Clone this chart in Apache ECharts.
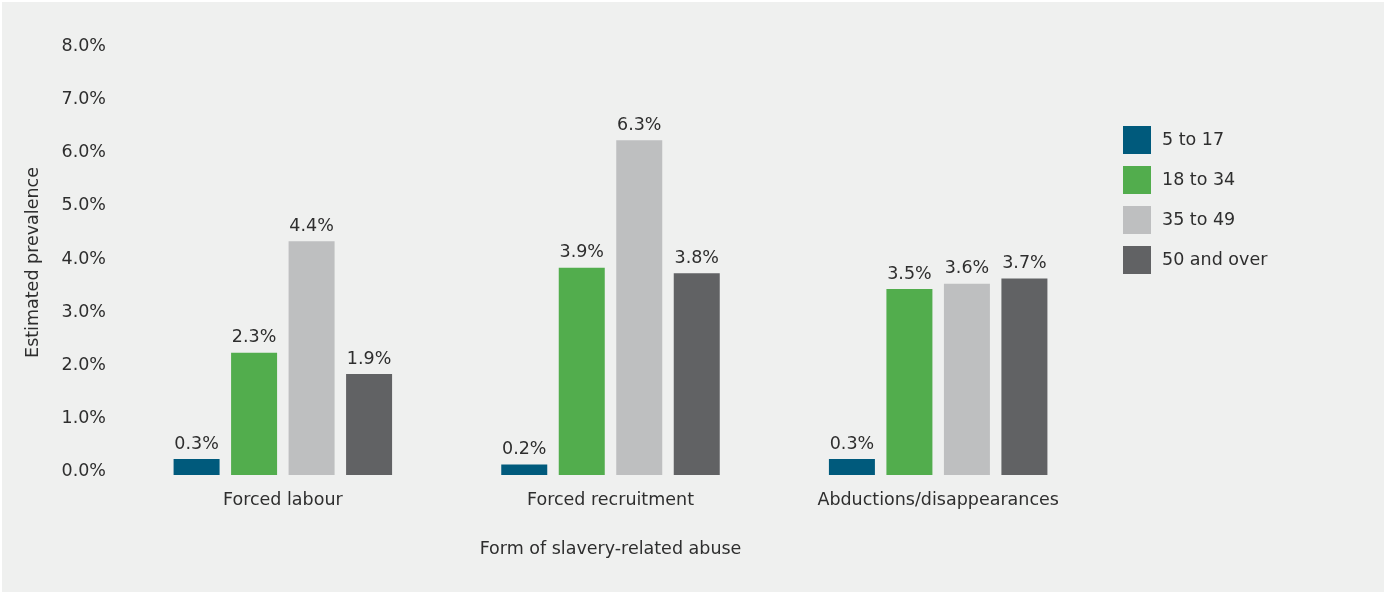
<!DOCTYPE html>
<html>
<head>
<meta charset="utf-8">
<script src="https://cdn.jsdelivr.net/npm/echarts@6/dist/echarts.min.js"></script>
<style>
html,body{margin:0;padding:0;background:#ffffff;}
#c{position:absolute;left:2px;top:2px;width:1382px;height:590px;background:#eff0ef;}
</style>
</head>
<body>
<div id="c"></div>
<script>
var categories = ['Forced labour', 'Forced recruitment', 'Abductions/disappearances'];
var seriesNames = ['5 to 17', '18 to 34', '35 to 49', '50 and over'];
var age5to17 = [0.3, 0.2, 0.3];
var age18to34 = [2.3, 3.9, 3.5];
var age35to49 = [4.4, 6.3, 3.6];
var age50over = [1.9, 3.8, 3.7];
var yTicks = [0, 1, 2, 3, 4, 5, 6, 7, 8];
var colors = ['#005a7c', '#52ad4d', '#bebfc0', '#616264'];

var FONT = 'DejaVu Sans';
var FS = 17.5;
var TXT = '#2e2e2e';
var allData = [age5to17, age18to34, age35to49, age50over];
var chart = echarts.init(document.getElementById('c'));
chart.setOption({
  backgroundColor: '#eff0ef',
  animation: false,
  textStyle: {fontFamily: FONT, color: TXT},
  grid: {left: 117, right: 282, top: 48, bottom: 117, containLabel: false},
  legend: {
    orient: 'vertical', left: 1121, top: 124, padding: 0,
    itemWidth: 28, itemHeight: 28, itemGap: 12,
    icon: 'rect',
    textStyle: {fontFamily: FONT, fontSize: FS, color: TXT, padding: [0,0,0,6]},
    data: seriesNames
  },
  xAxis: {
    type: 'category', data: categories,
    name: 'Form of slavery-related abuse', nameLocation: 'middle', nameGap: 65,
    nameTextStyle: {fontFamily: FONT, fontSize: FS, color: TXT},
    axisLine: {show: false}, axisTick: {show: false},
    axisLabel: {fontFamily: FONT, fontSize: FS, color: TXT, margin: 16}
  },
  yAxis: {
    type: 'value', min: 0, max: 8, interval: 1,
    name: 'Estimated prevalence', nameLocation: 'middle', nameGap: 77, nameRotate: 90,
    nameTextStyle: {fontFamily: FONT, fontSize: FS, color: TXT},
    splitLine: {show: false}, axisLine: {show: false}, axisTick: {show: false},
    axisLabel: {fontFamily: FONT, fontSize: FS, color: TXT, margin: 13,
      verticalAlign: 'bottom', lineHeight: 7,
      formatter: function (v) { return v.toFixed(1) + '%'; }}
  },
  series: seriesNames.map(function (n, i) {
    return {
      name: n, type: 'bar', data: allData[i],
      barWidth: 46, barGap: '25%',
      itemStyle: {color: colors[i]},
      label: {show: true, position: 'top', distance: 6, fontFamily: FONT, fontSize: FS, color: TXT,
        formatter: function (p) { return p.value.toFixed(1) + '%'; }}
    };
  })
});
</script>
</body>
</html>
